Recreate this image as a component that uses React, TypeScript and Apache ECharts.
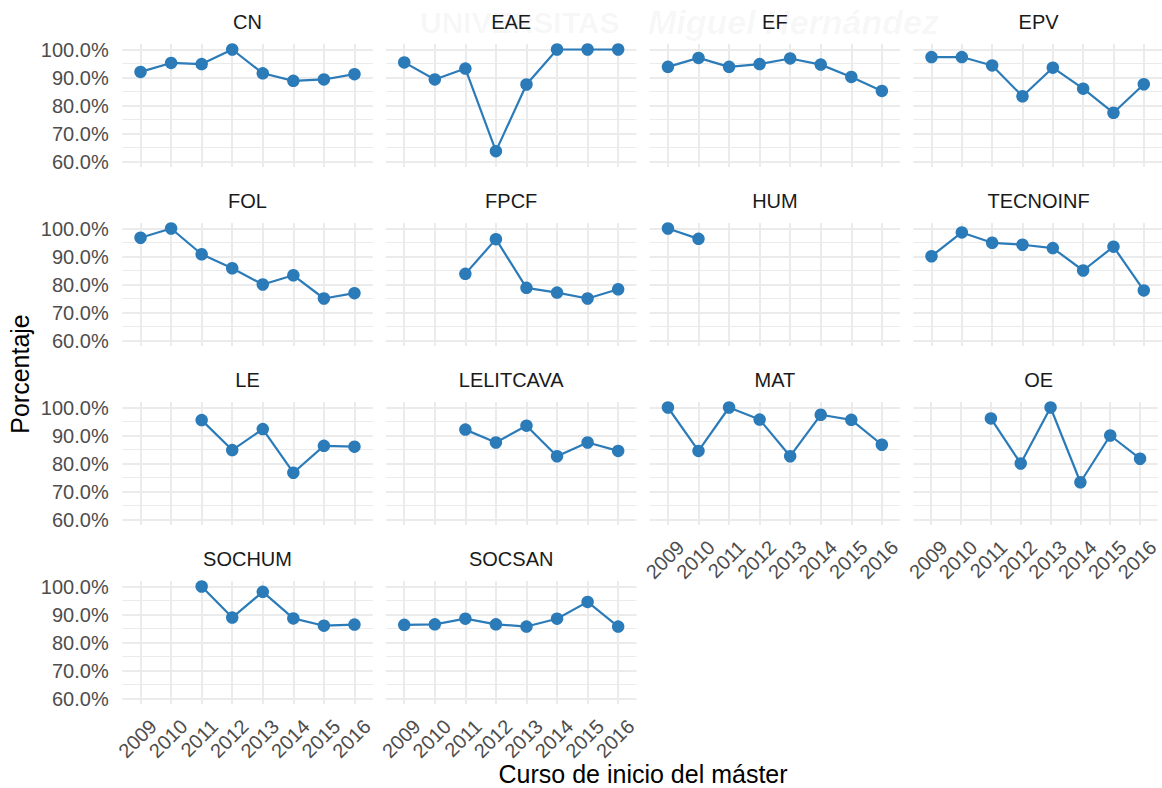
import React, { useEffect, useRef } from "react";
import * as echarts from "echarts";

// ---------- data ----------
const YEARS = [2009, 2010, 2011, 2012, 2013, 2014, 2015, 2016];
const PROGRAMS = [
  "CN", "EAE", "EF", "EPV",
  "FOL", "FPCF", "HUM", "TECNOINF",
  "LE", "LELITCAVA", "MAT", "OE",
  "SOCHUM", "SOCSAN",
];

const CN = [0.920, 0.952, 0.948, 1.0, 0.915, 0.888, 0.893, 0.912];
const EAE = [0.954, 0.893, 0.932, 0.637, 0.875, 1.0, 1.0, 1.0];
const EF = [0.938, 0.970, 0.938, 0.948, 0.968, 0.946, 0.902, 0.852];
const EPV = [0.973, 0.973, 0.943, 0.833, 0.935, 0.860, 0.774, 0.876];
const FOL = [0.967, 1.0, 0.908, 0.858, 0.800, 0.833, 0.750, 0.769];
const FPCF = [null, null, 0.838, 0.962, 0.788, 0.771, 0.750, 0.783];
const HUM = [1.0, 0.963, null, null, null, null, null, null];
const TECNOINF = [0.901, 0.986, 0.949, 0.942, 0.930, 0.850, 0.935, 0.779];
const LE = [null, null, 0.955, 0.848, 0.923, 0.767, 0.863, 0.860];
const LELITCAVA = [null, null, 0.921, 0.875, 0.935, 0.826, 0.875, 0.845];
const MAT = [1.0, 0.845, 1.0, 0.957, 0.826, 0.974, 0.956, 0.867];
const OE = [null, null, 0.961, 0.800, 1.0, 0.733, 0.900, 0.817];
const SOCHUM = [null, null, 1.0, 0.889, 0.981, 0.886, 0.860, 0.864];
const SOCSAN = [0.863, 0.865, 0.885, 0.865, 0.857, 0.885, 0.945, 0.857];

const VALUES: (number | null)[][] = [
  CN, EAE, EF, EPV, FOL, FPCF, HUM, TECNOINF, LE, LELITCAVA, MAT, OE, SOCHUM, SOCSAN,
];

const Y_MAJOR = [0.6, 0.7, 0.8, 0.9, 1.0];
const Y_MINOR = [0.65, 0.75, 0.85, 0.95];

const X_TITLE = "Curso de inicio del máster";
const Y_TITLE = "Porcentaje";

// ---------- layout / style ----------
const FONT = "'Liberation Sans', Arial, Helvetica, sans-serif";
const BLUE = "#2B7BB9";
const GRID_COLOR = "#EBEBEB";
const NCOL = 4;
const LEFT0 = 122.2;
const COL_PITCH = 263.7;
const PANEL_W = 250.6;
const TOP0 = 43.9;
const ROW_PITCH = 179;
const PANEL_H = 123.2;

function buildOption() {
  const grids: any[] = [];
  const xAxes: any[] = [];
  const yAxes: any[] = [];
  const series: any[] = [];
  const graphics: any[] = [];

  // faint watermark
  graphics.push({
    type: "text",
    x: 420,
    y: 22,
    z: 0,
    silent: true,
    style: {
      text: "UNIVERSITAS",
      fill: "rgba(0,0,0,0.045)",
      fontSize: 30,
      fontWeight: "bold",
      fontFamily: FONT,
      align: "left",
      verticalAlign: "middle",
      textAlign: "left",
      textVerticalAlign: "middle",
    },
  });
  graphics.push({
    type: "text",
    x: 648,
    y: 22,
    z: 0,
    silent: true,
    style: {
      text: "Miguel Hernández",
      fill: "rgba(0,0,0,0.045)",
      fontSize: 34,
      fontWeight: "bold",
      fontStyle: "italic",
      fontFamily: FONT,
      align: "left",
      verticalAlign: "middle",
      textAlign: "left",
      textVerticalAlign: "middle",
    },
  });

  const n = PROGRAMS.length;
  for (let i = 0; i < n; i++) {
    const row = Math.floor(i / NCOL);
    const col = i % NCOL;
    const left = LEFT0 + col * COL_PITCH;
    const top = TOP0 + row * ROW_PITCH;
    const showX = i + NCOL >= n;
    const showY = col === 0;

    grids.push({ left, top, width: PANEL_W, height: PANEL_H, containLabel: false });

    xAxes.push({
      type: "value",
      gridIndex: i,
      min: 2008.4,
      max: 2016.6,
      minInterval: 1,
      maxInterval: 1,
      axisLine: { show: false },
      axisTick: { show: false },
      splitLine: { show: false },
      axisLabel: {
        show: showX,
        rotate: 45,
        align: "right",
        verticalAlign: "top",
        padding: [8, 0, 0, 0],
        margin: 6,
        color: "#4D4D4D",
        fontSize: 20,
        fontFamily: FONT,
        formatter: (v: number) => (Number.isInteger(v) ? String(v) : ""),
      },
    });

    yAxes.push({
      type: "value",
      gridIndex: i,
      min: 0.58,
      max: 1.02,
      minInterval: 0.1,
      maxInterval: 0.1,
      axisLine: { show: false },
      axisTick: { show: false },
      splitLine: { show: false },
      axisLabel: {
        show: showY,
        margin: 13.5,
        color: "#4D4D4D",
        fontSize: 20,
        fontFamily: FONT,
        formatter: (v: number) => {
          const r = Math.round(v * 1000) / 1000;
          return Y_MAJOR.some((m) => Math.abs(m - r) < 1e-6) ? (r * 100).toFixed(1) + "%" : "";
        },
      },
    });

    // panel grid lines (drawn through the axes via markLine)
    const lines: any[] = [];
    Y_MINOR.forEach((v) => lines.push({ yAxis: v, lineStyle: { color: GRID_COLOR, width: 1, type: "solid" } }));
    Y_MAJOR.forEach((v) => lines.push({ yAxis: v, lineStyle: { color: GRID_COLOR, width: 2, type: "solid" } }));
    YEARS.forEach((yr) => lines.push({ xAxis: yr, lineStyle: { color: GRID_COLOR, width: 2, type: "solid" } }));

    series.push({
      type: "line",
      name: "grid-" + PROGRAMS[i],
      xAxisIndex: i,
      yAxisIndex: i,
      data: [],
      silent: true,
      z: 1,
      markLine: {
        silent: true,
        z: 1,
        symbol: ["none", "none"],
        label: { show: false },
        emphasis: { disabled: true },
        lineStyle: { type: "solid", color: GRID_COLOR },
        animation: false,
        data: lines,
      },
    });

    const vals = VALUES[i];
    const pts: [number, number][] = [];
    YEARS.forEach((yr, k) => {
      const v = vals[k];
      if (v !== null && v !== undefined) pts.push([yr, v]);
    });

    series.push({
      type: "line",
      name: PROGRAMS[i],
      xAxisIndex: i,
      yAxisIndex: i,
      data: pts,
      z: 10,
      clip: false,
      symbol: "circle",
      symbolSize: 12.5,
      showSymbol: true,
      itemStyle: { color: BLUE },
      lineStyle: { color: BLUE, width: 2.2 },
      emphasis: { disabled: true },
      animation: false,
    });

    // strip label
    graphics.push({
      type: "text",
      x: left + PANEL_W / 2,
      y: top - 21.5,
      z: 5,
      silent: true,
      style: {
        text: PROGRAMS[i],
        fill: "#1A1A1A",
        fontSize: 20,
        fontFamily: FONT,
        align: "center",
        verticalAlign: "middle",
        textAlign: "center",
        textVerticalAlign: "middle",
      },
    });
  }

  // axis titles
  const panelsRight = LEFT0 + (NCOL - 1) * COL_PITCH + PANEL_W;
  graphics.push({
    type: "text",
    x: (LEFT0 + panelsRight) / 2,
    y: 774,
    z: 5,
    silent: true,
    style: {
      text: X_TITLE,
      fill: "#000000",
      fontSize: 25,
      fontFamily: FONT,
      align: "center",
      verticalAlign: "middle",
      textAlign: "center",
      textVerticalAlign: "middle",
    },
  });
  const panelsBottom = TOP0 + 3 * ROW_PITCH + PANEL_H;
  graphics.push({
    type: "text",
    x: 20,
    y: (TOP0 + panelsBottom) / 2,
    rotation: Math.PI / 2,
    z: 5,
    silent: true,
    style: {
      text: Y_TITLE,
      fill: "#000000",
      fontSize: 25,
      fontFamily: FONT,
      align: "center",
      verticalAlign: "middle",
      textAlign: "center",
      textVerticalAlign: "middle",
    },
  });

  return {
    animation: false,
    backgroundColor: "#FFFFFF",
    textStyle: { fontFamily: FONT },
    grid: grids,
    xAxis: xAxes,
    yAxis: yAxes,
    series,
    graphic: { elements: graphics },
  };
}

export default function App() {
  const ref = useRef<HTMLDivElement>(null);
  useEffect(() => {
    if (!ref.current) return;
    const chart = echarts.init(ref.current, undefined, { renderer: "svg" });
    chart.setOption(buildOption() as any);
    return () => {
      chart.dispose();
    };
  }, []);
  return (
    <div
      ref={ref}
      style={{ position: "absolute", left: 0, top: 0, width: 1162, height: 788 }}
    />
  );
}
